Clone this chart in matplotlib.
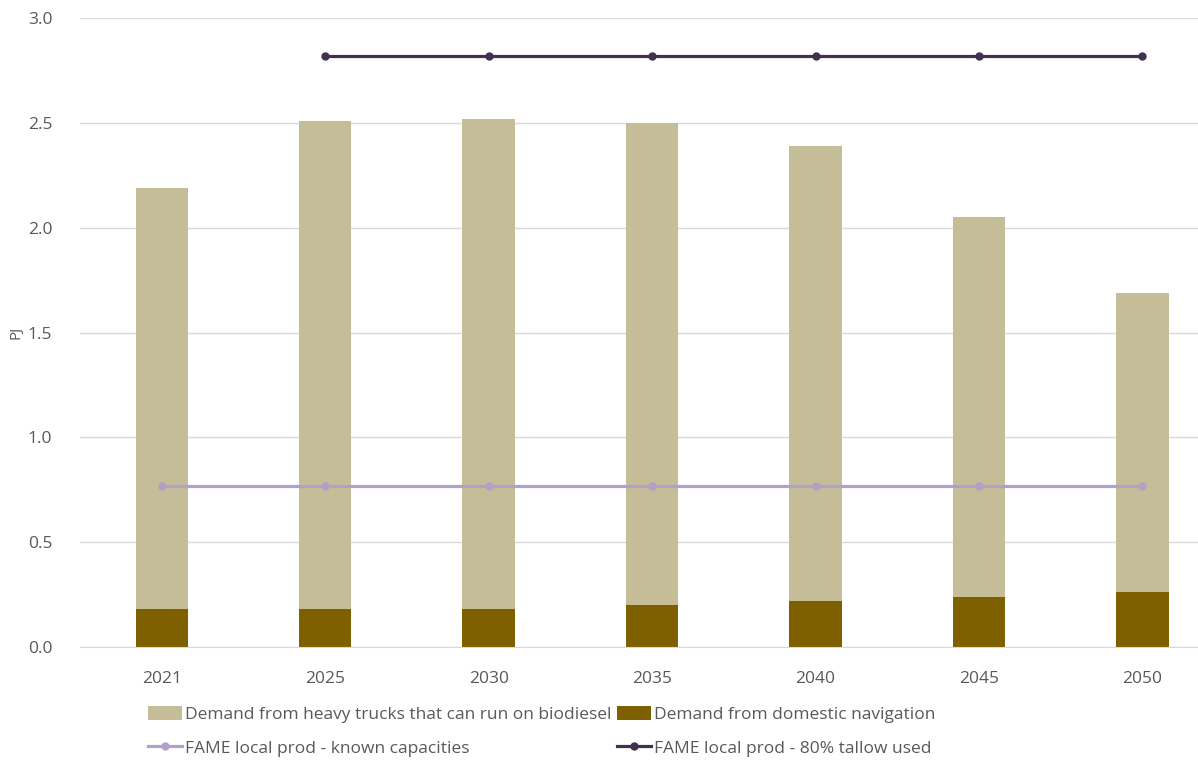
import numpy as np
import matplotlib.pyplot as plt

plt.rcParams['font.family'] = ['Open Sans', 'DejaVu Sans']

years = ['2021', '2025', '2030', '2035', '2040', '2045', '2050']
navigation = [0.18, 0.18, 0.18, 0.20, 0.22, 0.24, 0.26]
total_demand = [2.19, 2.51, 2.52, 2.50, 2.39, 2.05, 1.69]
trucks = [t - n for t, n in zip(total_demand, navigation)]
fame_known = [0.77, 0.77, 0.77, 0.77, 0.77, 0.77, 0.77]
fame_tallow = [np.nan, 2.82, 2.82, 2.82, 2.82, 2.82, 2.82]

x = np.arange(len(years))

fig = plt.figure(figsize=(11.98, 7.60), dpi=100)
ax = fig.add_axes([0.0668, 0.1487, 0.9332, 0.8276])

ax.bar(x, trucks, bottom=navigation, width=0.32, color='#C4BD97',
       label='Demand from heavy trucks that can run on biodiesel', zorder=2)
ax.bar(x, navigation, width=0.32, color='#7F6000',
       label='Demand from domestic navigation', zorder=2)
ax.plot(x, fame_known, color='#B1A0C7', lw=2.3, marker='o', ms=5,
        label='FAME local prod - known capacities', zorder=3)
ax.plot(x, fame_tallow, color='#403151', lw=2.3, marker='o', ms=5,
        label='FAME local prod - 80% tallow used', zorder=3)

ax.set_xlim(-0.5, 6.34)
ax.set_ylim(0, 3.0)
ticks = np.arange(0, 3.01, 0.5)
ax.set_yticks(ticks)
ax.set_yticklabels([f'{v:.1f}' for v in ticks])
ax.set_xticks(x)
ax.set_xticklabels(years)
ax.grid(axis='y', color='#D9D9D9', lw=1, zorder=0)
for s in ['top', 'right', 'left']:
    ax.spines[s].set_visible(False)
ax.spines['bottom'].set_color('#D9D9D9')
ax.tick_params(length=0, colors='#595959', labelsize=12.5)
ax.tick_params(axis='x', pad=17)
ax.tick_params(axis='y', pad=20)
ax.set_ylabel('PJ', color='#595959', fontsize=11, labelpad=3)

# legend: bars on the first row, lines on the second
handles, labels = ax.get_legend_handles_labels()
order = [2, 0, 3, 1]
fig.legend([handles[i] for i in order], [labels[i] for i in order],
           loc='center', bbox_to_anchor=(0.452, 0.0375), ncol=2, frameon=False,
           fontsize=12.5, labelcolor='#595959', handlelength=2.0,
           handleheight=0.9, handletextpad=0.15, columnspacing=0.3,
           labelspacing=0.95)

fig.savefig('out.png', dpi=100)
